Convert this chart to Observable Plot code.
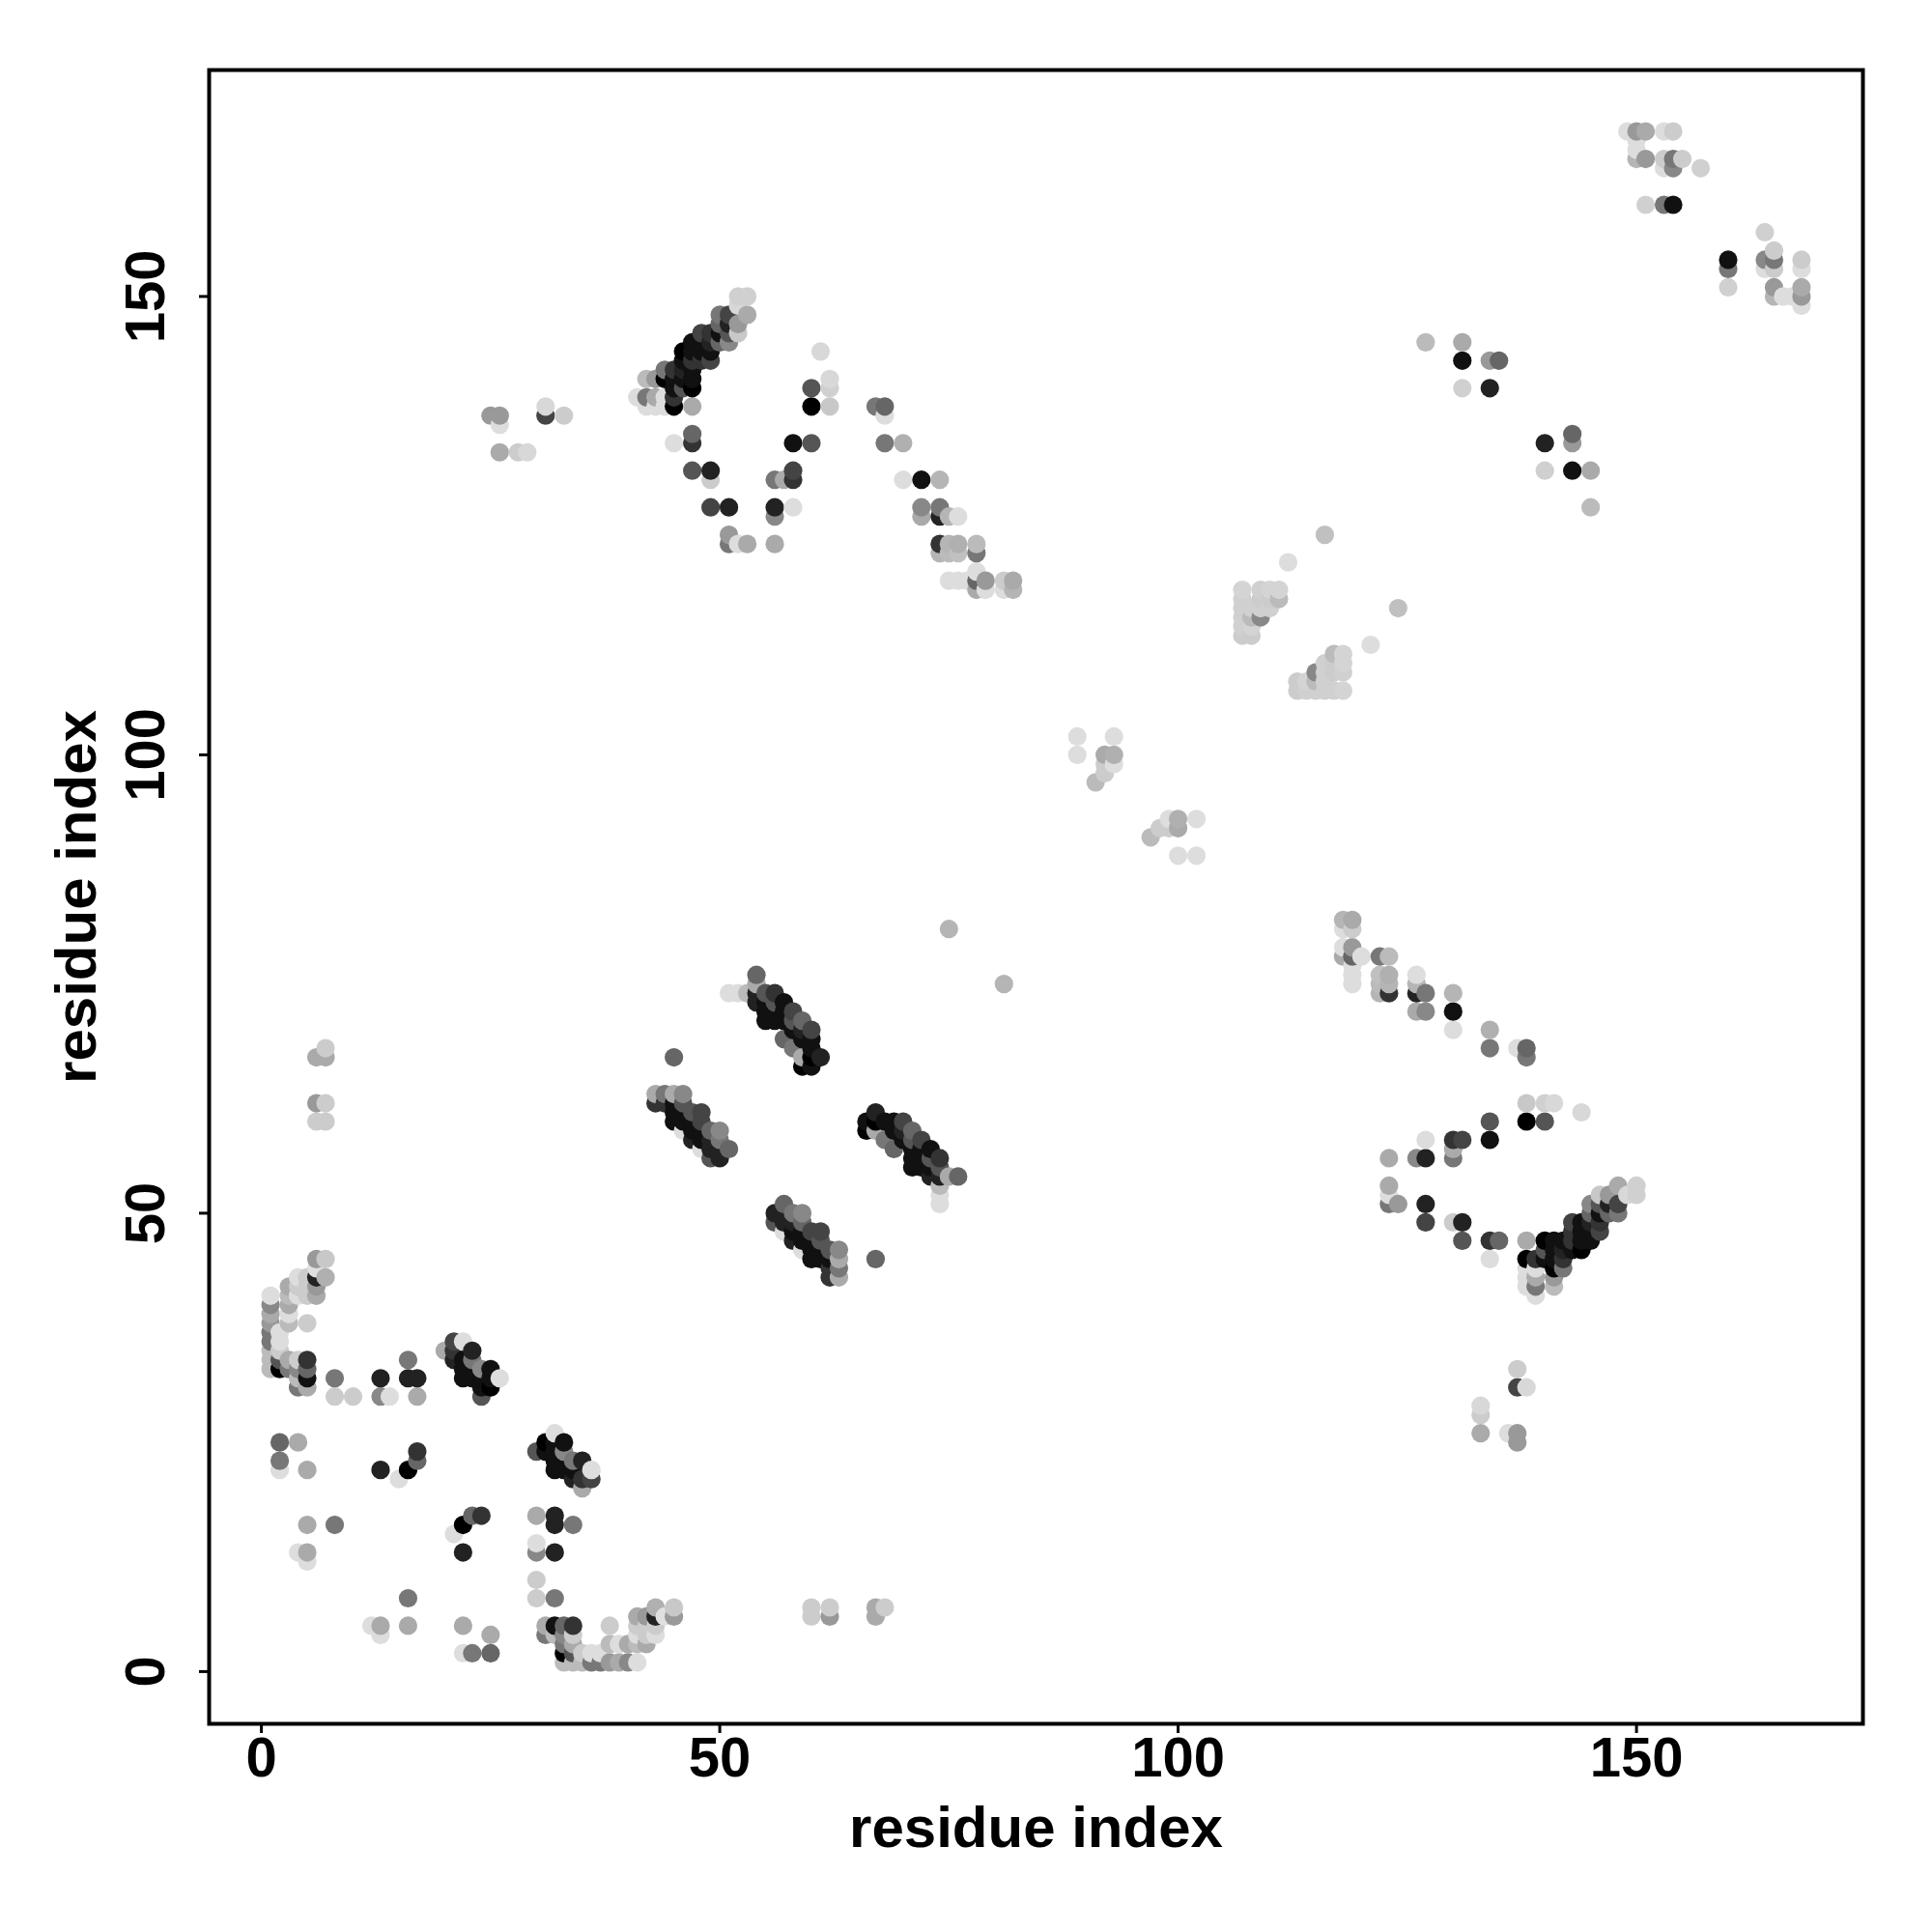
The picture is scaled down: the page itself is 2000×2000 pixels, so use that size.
<!DOCTYPE html>
<html><head><meta charset="utf-8">
<script src="https://cdn.jsdelivr.net/npm/d3@7"></script>
<script src="https://cdn.jsdelivr.net/npm/@observablehq/plot@0.6"></script>
<style>html,body{margin:0;padding:0;background:#fff}</style>
</head><body><div id="chart"></div>
<script>
// Each row: residue i, residue j (i<j), grey level of the contact. The map is symmetric.
const tickValues = [0, 50, 100, 150];
const axisTitle = "residue index";
const cornerA = [
[1,33,0xbb],[1,34,0xbb],[1,35,0xbb],[1,36,0x77],[1,37,0x77],[1,38,0x99],[1,39,0xaa],[1,40,0x88],[1,41,0xdd],
[2,33,0x00],[2,34,0x55],[2,35,0xcc],[2,36,0xdd],[2,37,0xdd],
[3,33,0x77],[3,34,0xaa],[3,38,0xbb],[3,39,0xdd],[3,40,0xaa],[3,41,0xbb],[3,42,0xaa],
[4,31,0x77],[4,32,0xbb],[4,33,0x88],[4,34,0xcc],[4,41,0xdd],[4,42,0xcc],[4,43,0xdd],
[5,31,0xaa],[5,32,0x11],[5,33,0x66],[5,34,0x33],[5,38,0xcc],[5,41,0xcc],[5,42,0xcc],[5,43,0xcc],
[6,41,0xaa],[6,42,0x99],[6,43,0x22],[6,44,0xe0],[6,45,0x99],[7,43,0xb0],[7,45,0xc8],
[6,60,0xcc],[7,60,0xcc],[6,62,0x99],[7,62,0xcc],[6,67,0xaa],[7,67,0xaa],[7,68,0xcc],
[8,30,0xcc],[8,32,0x77],[10,30,0xcc],[13,30,0x88],[13,32,0x22],[14,30,0xdd],[16,32,0x22],[16,34,0x77],[17,30,0xaa],[17,32,0x22]
];
const cornerB = [
[2,22,0xdd],[2,23,0x77],[2,25,0x66],[4,25,0xaa],[5,22,0xaa],[4,13,0xdd],[5,12,0xdd],[5,13,0xaa],[5,16,0xaa],[8,16,0x77],
[13,22,0x22],[15,21,0xdd],[16,22,0x00],[17,23,0x66],[17,24,0x33]
];
const strandA = [
[20,35,0xaa],[21,34,0x22],[21,35,0x33],[21,36,0x44],[22,32,0x11],[22,33,0x11],[22,34,0x11],[22,36,0xdd],
[23,32,0x11],[23,33,0x11],[23,34,0x77],[23,35,0x22],[24,30,0x55],[24,31,0x11],[24,32,0x11],[24,33,0x88],
[25,31,0x00],[25,32,0x11],[25,33,0x11],[26,32,0xdd]
];
const farA = [
[25,137,0x99],[26,133,0xaa],[26,136,0xdd],[26,137,0x99],[28,133,0xcc],[29,133,0xd8],[31,137,0x44],[31,138,0xd8],[33,137,0xcc]
];
const strandB = [
[43,63,0xaa],[44,63,0x77],[45,63,0xaa],[46,63,0x88],[43,62,0x33],[44,62,0x33],[45,62,0x11],[46,62,0x55],
[45,60,0x11],[45,61,0x11],[46,59,0xdd],[46,60,0x11],[46,61,0x11],[47,59,0x11],[47,60,0x11],[47,61,0x55],[47,58,0x22],
[48,57,0xdd],[48,58,0x11],[48,59,0x11],[48,60,0x44],[48,61,0x44],[49,56,0x55],[49,57,0x22],[49,58,0x22],[49,59,0x66],
[50,56,0x22],[50,57,0x22],[50,58,0x77],[50,59,0x88],[51,57,0x66],[45,67,0x66]
];
const strandC = [
[51,74,0xdd],[52,74,0xdd],[53,74,0xbb],[54,73,0x22],[54,74,0x22],[54,75,0xaa],[54,76,0x66],
[55,71,0x11],[55,72,0x11],[55,73,0x11],[55,74,0x55],[56,71,0x11],[56,72,0x11],[56,73,0x55],[56,74,0x33],
[57,69,0x66],[57,71,0x11],[57,72,0x11],[57,73,0x11],[58,68,0x77],[58,70,0x11],[58,71,0x55],[58,72,0x44],
[59,66,0x00],[59,67,0xaa],[59,69,0x11],[59,70,0x22],[59,71,0x66],[60,66,0x11],[60,67,0x00],[60,68,0x11],[60,69,0x11],[60,70,0x44],[61,67,0x22],
[75,81,0xb5]
];
const bandD = [
[41,139,0xdd],[42,138,0xdd],[42,139,0x77],[42,141,0xbb],[43,138,0xdd],[43,139,0xaa],[43,141,0x99],[44,138,0xdd],[44,139,0xdd],[44,141,0x00],[44,142,0x77],
[45,138,0x00],[45,139,0x33],[45,140,0x11],[45,141,0x11],[45,142,0x33],[46,140,0x55],[46,141,0x11],[46,142,0x22],[46,143,0x11],[46,144,0x00],
[47,138,0xaa],[47,140,0x00],[47,141,0x11],[47,142,0x11],[47,143,0x33],[47,144,0x11],[47,145,0x11],[48,143,0x33],[48,144,0x11],[48,145,0x11],[48,146,0x44],
[49,143,0x44],[49,144,0x11],[49,145,0x22],[49,146,0x33],[50,145,0x66],[50,146,0x11],[50,147,0x66],[50,148,0x77],
[51,145,0x88],[51,146,0x55],[51,147,0x22],[51,148,0x44],[52,146,0xc8],[52,147,0x99],[52,149,0xd8],[52,150,0xd0],[53,148,0xaa],[53,150,0xd0]
];
const curveE = [
[45,134,0xdd],[47,131,0x55],[47,134,0x33],[47,135,0x66],[49,127,0x44],[49,130,0xcc],[49,131,0x22],[51,123,0x77],[51,124,0x99],[51,127,0x22],[52,123,0xdd],[53,123,0xaa],
[56,123,0xaa],[56,126,0x88],[56,127,0x22],[56,130,0x77],[57,130,0xaa],[58,127,0xdd],[58,130,0x33],[58,131,0x44],[58,134,0x11],
[60,134,0x55],[60,138,0x00],[60,140,0x55],[61,144,0xd8],[62,138,0xc8],[62,140,0xd0],[62,141,0xd8]
];
const curveF = [
[67,138,0x77],[68,134,0x77],[68,137,0xdd],[68,138,0x66],[70,130,0xdd],[70,134,0xb0],[72,126,0xaa],[72,127,0x88],[72,130,0x11],
[74,122,0xb5],[74,123,0x33],[74,126,0x22],[74,127,0x77],[74,130,0xb5],[75,119,0xdd],[75,122,0xbb],[75,123,0xb5],[75,126,0xb5],
[76,119,0xdd],[76,122,0xc0],[76,123,0xb0],[76,126,0xdd],[77,119,0xdd],[78,118,0xaa],[78,119,0x66],[78,120,0xdd],[78,122,0x77],[78,123,0xbb],
[79,118,0xdd],[79,119,0x99],[81,118,0xdd],[81,119,0xcc],[82,118,0xb5],[82,119,0xaa]
];
const localG = [
[89,100,0xdd],[89,102,0xdd],[91,97,0xbb],[92,98,0xcc],[92,99,0xcc],[92,100,0xaa],[93,99,0xdd],[93,100,0xb0],[93,102,0xdd],
[107,113,0xcc],[107,114,0xd0],[107,115,0xd0],[107,116,0xd0],[107,117,0xd0],[107,118,0xd4],[108,113,0xcc],[108,114,0xd4],[108,115,0xbb],[108,116,0xd0],
[109,115,0x88],[109,116,0xd0],[109,117,0xcc],[109,118,0xd0],[110,116,0xd0],[110,117,0xcc],[110,118,0xd4],[111,117,0xbb],[111,118,0xd4],
[112,121,0xdd],[116,124,0xc0]
];
const farH = [
[127,145,0xbb],[131,140,0xd0],[131,143,0x11],[131,145,0xaa],[134,140,0x22],[134,143,0x99],[135,143,0x66],
[149,168,0xdd],[150,165,0xb5],[150,166,0xdd],[150,167,0xdd],[150,168,0x99],[151,160,0xd0],[151,165,0x99],[151,168,0xaa],
[153,160,0x77],[153,164,0xdd],[153,165,0xcc],[153,168,0xdd],[154,160,0x11],[154,164,0x88],[154,165,0x77],[154,168,0xcc],[155,165,0xcc],[157,164,0xd0]
];

const contacts = [cornerA, cornerB, strandA, farA, strandB, strandC, bandD, curveE, curveF, localG, farH].flat();
const points = d3.sort(
  contacts.flatMap(([i, j, level]) => [{x: i, y: j, level}, {x: j, y: i, level}]),
  (a, b) => d3.ascending(a.x, b.x) || d3.ascending(a.y, b.y)
);

const chart = Plot.plot({
  width: 2000, height: 2000,
  marginLeft: 216, marginRight: 72, marginTop: 72, marginBottom: 216,
  x: {domain: [-5.7, 174.7]},
  y: {domain: [-5.7, 174.7]},
  color: {type: "linear", domain: [0, 255], range: ["#000", "#fff"], interpolate: "rgb"},
  style: {fontFamily: "'Liberation Sans', Arial, sans-serif", fontWeight: "bold", color: "#000", background: "#fff"},
  marks: [
    Plot.dot(points, {x: "x", y: "y", r: 9.6, fill: "level", stroke: "none"}),
    Plot.frame({stroke: "#000", strokeWidth: 4, strokeOpacity: 1}),
    Plot.axisX({ticks: tickValues, tickSize: 10, tickPadding: 3, strokeWidth: 3, label: null, fontSize: 58, tickFormat: d3.format("d")}),
    Plot.axisY({ticks: tickValues, tickSize: 10, tickPadding: 37, strokeWidth: 3, tickRotate: -90, textAnchor: "middle", label: null, fontSize: 58, tickFormat: d3.format("d")}),
    Plot.text([axisTitle], {frameAnchor: "bottom", dy: 108, fontSize: 60, lineAnchor: "middle", text: d => d}),
    Plot.text([axisTitle], {frameAnchor: "left", dx: -137, rotate: -90, fontSize: 60, textAnchor: "middle", lineAnchor: "middle", text: d => d})
  ]
});
document.getElementById("chart").appendChild(chart);
</script></body></html>
